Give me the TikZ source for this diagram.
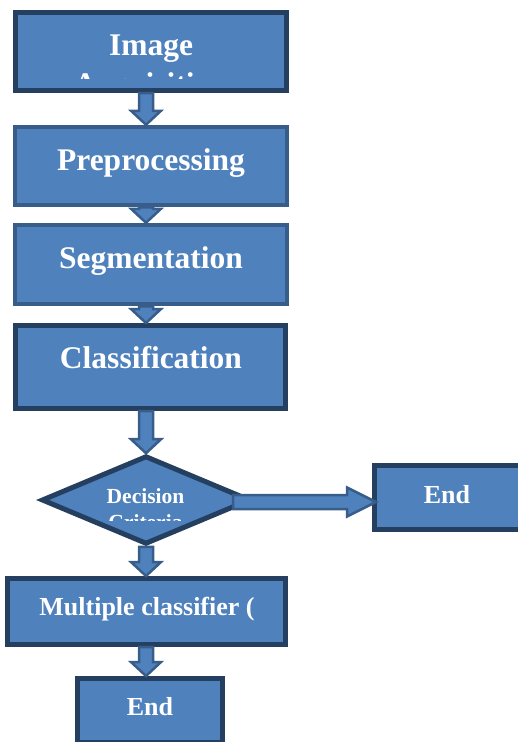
\documentclass[tikz,border=0pt]{standalone}
\usepackage{fontspec}
\setmainfont{Liberation Serif}
\usetikzlibrary{shapes.geometric,calc}
\definecolor{boxfill}{HTML}{4F81BD}
\definecolor{darkline}{HTML}{243F60}
\definecolor{midline}{HTML}{385D8A}
\tikzset{
  box/.style={draw=darkline,fill=boxfill,line width=5pt,inner sep=0pt},
  lightbox/.style={box,draw=midline,line width=4.5pt},
  bigtext/.style={text=white,inner sep=0pt,anchor=base,font=\fontsize{31.5}{38}\selectfont\bfseries},
  midtext/.style={bigtext,font=\fontsize{26}{31}\selectfont\bfseries},
  smalltext/.style={bigtext,font=\fontsize{21.5}{26}\selectfont\bfseries},
  flow/.style={draw=midline,fill=boxfill,line width=2.5pt,line join=miter}
}
\begin{document}
\begin{tikzpicture}[x=1pt,y=-1pt]
\clip (0,0) rectangle (518,742);
\coordinate (axis) at (146,0);
\node[box,minimum width=271pt,minimum height=78pt] (acq) at (151,51.5) {};
\node[lightbox,minimum width=272pt,minimum height=78pt] (prep) at (151,166) {};
\node[lightbox,minimum width=272pt,minimum height=79pt] (seg) at (151,264.5) {};
\node[box,minimum width=270pt,minimum height=83pt] (cls) at (150.5,367) {};
\node[box,diamond,minimum width=209pt,minimum height=88.6pt] (dec) at (146,500) {};
\node[box,minimum width=155pt,minimum height=64pt] (endA) at (452,497.5) {};
\node[box,minimum width=278pt,minimum height=66pt] (mult) at (146.5,611.5) {};
\node[box,minimum width=145pt,minimum height=64pt] (endB) at (150,710.5) {};
\node[bigtext] (acqtop) at (151,55) {Image};
\begin{scope}
\clip (16,60) rectangle (286,78);
\node[bigtext] (acqbot) at (151,94) {Acquisition};
\end{scope}
\node[bigtext] (preptxt) at (151,170) {Preprocessing};
\node[bigtext] (segtxt) at (151,268) {Segmentation};
\node[bigtext] (clstxt) at (151,368) {Classification};
\node[smalltext] (dectop) at (145.5,503) {Decision};
\begin{scope}
\clip (90,508) rectangle (200,520.5);
\node[smalltext] (decbot) at (145.5,529) {Criteria};
\end{scope}
\node[midtext] (endAtxt) at (447,503) {End};
\node[midtext] (multtxt) at (147,615) {Multiple classifier (};
\node[midtext] (endBtxt) at (150,715) {End};
\foreach \a/\b in {acq/prep,prep/seg,seg/cls,cls/dec,dec/mult,mult/endB}{
  \path (\a.south -| axis) coordinate (s) (\b.north -| axis) coordinate (t);
  \draw[flow] ($(s)+(-7,0)$) -- ($(t)+(-7,-14)$) -- ($(t)+(-15,-14)$) -- (t)
    -- ($(t)+(15,-14)$) -- ($(t)+(7,-14)$) -- ($(s)+(7,0)$) -- cycle;}
\path ($(dec.east)+(-20,2)$) coordinate (s) ($(endA.west |- dec.east)+(4,2)$) coordinate (t);
\draw[flow] ($(s)+(0,-7)$) -- ($(t)+(-29,-7)$) -- ($(t)+(-29,-14.5)$) -- (t)
  -- ($(t)+(-29,14.5)$) -- ($(t)+(-29,7)$) -- ($(s)+(0,7)$) -- cycle;
\end{tikzpicture}
\end{document}
